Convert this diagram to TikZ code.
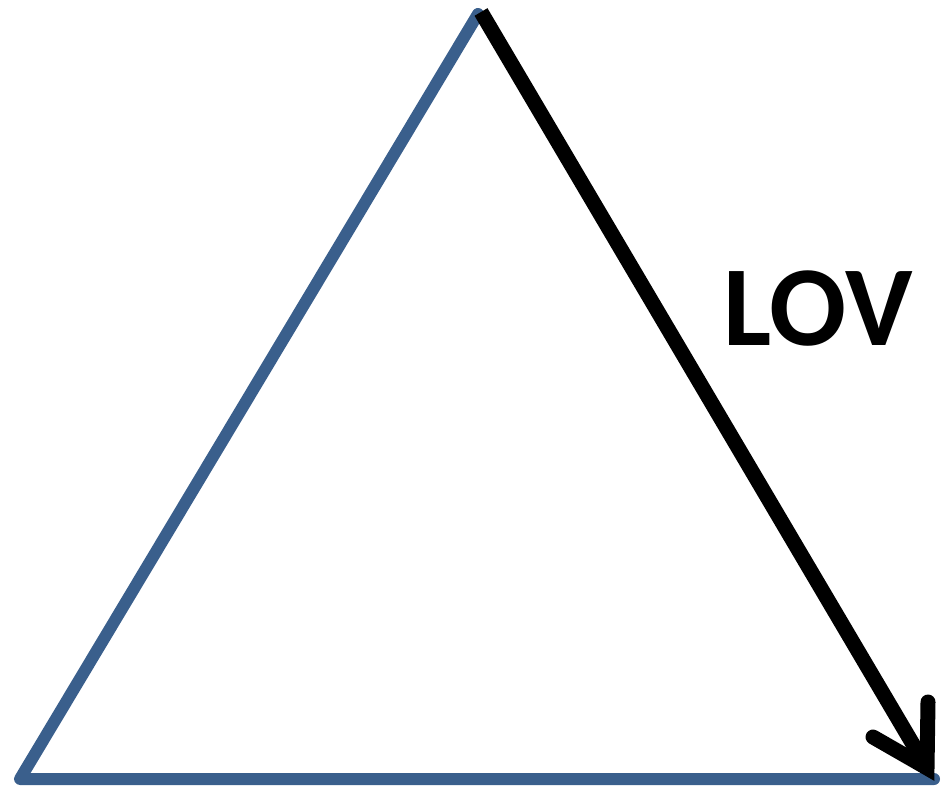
\documentclass[tikz,border=0pt]{standalone}
\usepackage{fontspec}
\setmainfont{Carlito}
\definecolor{edgeblue}{RGB}{58,95,140}
\begin{document}
\begin{tikzpicture}[x=1pt,y=-1pt,
  edge/.style={draw=edgeblue,line width=12pt,line join=round,line cap=round},
  shaft/.style={draw=black,line width=15pt,line cap=butt},
  barb/.style={draw=black,line width=15pt,line cap=round,line join=miter}]
\useasboundingbox (0,0) rectangle (942,791);
\coordinate (apex) at (478,14);
\coordinate (bl) at (20,779);
\coordinate (br) at (934,779);
\coordinate (start) at (481,12);
\coordinate (tip) at (927,768);
\coordinate (b1) at (928,702);
\coordinate (b2) at (873,737);
\draw[edge] (br) -- (bl) -- (apex);
\draw[shaft] (start) -- (tip);
\draw[barb] (b1) -- (tip) -- (b2);
\node[font=\fontsize{114}{114}\selectfont\bfseries,inner sep=0pt,anchor=base] (lov) at (818,345) {LOV};
\end{tikzpicture}
\end{document}
